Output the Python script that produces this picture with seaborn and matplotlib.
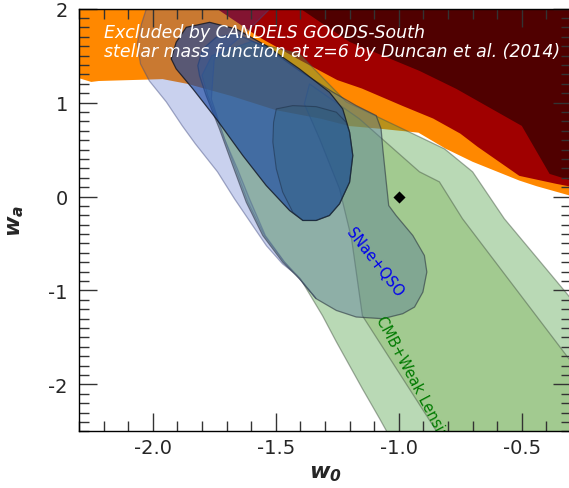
import matplotlib
matplotlib.use("Agg")
import matplotlib.pyplot as plt
from matplotlib.colors import to_rgba
from matplotlib.ticker import MultipleLocator, FormatStrFormatter
import seaborn as sns

# ---------------- data (w0, wa) ----------------
# lower edges of the excluded regions (each region extends to the top of the plot)
orange_w0 = [-2.35, -2.30, -2.25, -2.22, -1.96, -1.86, -1.68, -1.50, -1.32, -1.20, -1.07, -0.92, -0.81, -0.70, -0.51, -0.44, -0.25]
orange_wa = [1.26, 1.26, 1.22, 1.23, 1.25, 1.20, 1.07, 0.92, 0.83, 0.75, 0.72, 0.68, 0.51, 0.37, 0.17, 0.11, -0.03]
red_w0 = [-1.76, -1.74, -1.57, -1.40, -1.25, -1.15, -0.985, -0.86, -0.75, -0.68, -0.51, -0.36, -0.25]
red_wa = [2.10, 2.00, 1.70, 1.45, 1.24, 1.15, 0.965, 0.83, 0.67, 0.53, 0.22, 0.135, 0.08]
maroon_w0 = [-1.42, -1.40, -1.20, -0.916, -0.766, -0.50, -0.387, -0.25]
maroon_wa = [2.10, 2.00, 1.646, 1.338, 1.146, 0.752, 0.241, 0.13]

# CMB + weak lensing (outer / inner)
cmb2_w0 = [-1.404, -1.213, -0.916, -0.814, -0.700, -0.571, -0.310, -0.022, -0.022, -0.997, -1.050, -1.078, -1.148, -1.254, -1.310, -1.400, -1.466, -1.547, -1.614, -1.669, -1.723, -1.777, -1.800, -1.760, -1.600]
cmb2_wa = [1.518, 1.007, 0.635, 0.507, 0.263, -0.237, -1.056, -2.046, -3.216, -3.216, -2.497, -2.365, -2.046, -1.546, -1.269, -0.876, -0.698, -0.415, -0.060, 0.330, 0.720, 1.074, 1.290, 1.500, 1.650]
cmb1_w0 = [-1.363, -1.160, -0.916, -0.835, -0.741, -0.318, -0.022, -0.022, -0.713, -0.847, -1.148, -1.192, -1.241, -1.322, -1.384]
cmb1_wa = [1.199, 0.827, 0.263, 0.156, -0.237, -1.695, -2.705, -3.216, -3.216, -2.497, -1.269, -0.450, 0.082, 0.614, 0.986]

# SNae + QSO contours (outermost, 2-sigma, 1-sigma, core)
snq3_w0 = [-2.014, -1.485, -1.606, -1.750, -1.762, -1.709, -1.656, -1.607, -1.542, -1.465, -1.392, -1.336, -1.416, -1.473, -1.538, -1.599, -1.668, -1.737, -1.827, -1.880, -1.945, -2.014, -2.050, -2.063, -2.046]
snq3_wa = [2.10, 2.10, 1.784, 1.465, 1.039, 0.614, 0.295, -0.024, -0.418, -0.695, -0.907, -1.088, -0.834, -0.716, -0.524, -0.290, -0.024, 0.263, 0.561, 0.752, 1.007, 1.231, 1.412, 1.624, 1.837]
snq2_w0 = [-1.817, -1.797, -1.742, -1.661, -1.539, -1.404, -1.268, -1.173, -1.092, -1.072, -1.065, -1.051, -1.041, -1.011, -0.943, -0.896, -0.886, -0.902, -0.936, -0.984, -1.065, -1.173, -1.254, -1.336, -1.404, -1.472, -1.553, -1.620, -1.675, -1.729, -1.783, -1.810]
snq2_wa = [1.394, 1.571, 1.696, 1.731, 1.589, 1.340, 1.111, 0.968, 0.862, 0.720, 0.507, 0.153, -0.096, -0.202, -0.415, -0.628, -0.804, -1.017, -1.177, -1.248, -1.301, -1.283, -1.213, -1.088, -0.876, -0.698, -0.415, -0.060, 0.330, 0.720, 1.074, 1.287]
snq1_w0 = [-1.925, -1.905, -1.864, -1.769, -1.661, -1.539, -1.404, -1.282, -1.228, -1.200, -1.187, -1.200, -1.241, -1.282, -1.336, -1.390, -1.444, -1.539, -1.634, -1.742, -1.837, -1.905]
snq1_wa = [1.465, 1.643, 1.802, 1.855, 1.784, 1.606, 1.359, 1.111, 0.933, 0.685, 0.436, 0.153, -0.078, -0.202, -0.255, -0.255, -0.149, 0.117, 0.436, 0.827, 1.146, 1.359]
snq0_w0 = [-1.498, -1.431, -1.336, -1.254, -1.214, -1.200, -1.187, -1.200, -1.241, -1.282, -1.336, -1.390, -1.431, -1.472, -1.498, -1.512, -1.509]
snq0_wa = [0.933, 0.968, 0.957, 0.898, 0.791, 0.685, 0.436, 0.153, -0.078, -0.202, -0.255, -0.255, -0.166, 0.047, 0.295, 0.579, 0.791]

fid_w0 = [-1.0]
fid_wa = [0.0]

x_ticks = [-2.0, -1.5, -1.0, -0.5]
y_ticks = [-2, -1, 0, 1, 2]

# ---------------- style ----------------
sns.set_style("ticks")
plt.rcParams.update({
    "font.family": ["DejaVu Sans"],
    "axes.unicode_minus": False,
    "mathtext.fontset": "custom",
    "mathtext.it": "DejaVu Sans:italic:bold",
    "mathtext.rm": "DejaVu Sans:italic:bold",
    "mathtext.bf": "DejaVu Sans:italic:bold",
})

fig = plt.figure(figsize=(5.69, 4.89), dpi=100)
ax = fig.add_axes([79 / 569, 56.7 / 489, 492 / 569, 422.6 / 489])
ax.set_xlim(-2.3, -0.3)
ax.set_ylim(-2.5, 2.0)
TOP = 2.2


def excl(xs, ys, color):
    ax.fill(list(xs) + [xs[-1], xs[0]], list(ys) + [TOP, TOP],
            facecolor=color, edgecolor="none", zorder=1)


excl(orange_w0, orange_wa, "#ff8800")
excl(red_w0, red_wa, "#a00000")
excl(maroon_w0, maroon_wa, "#500000")


def contour(xs, ys, fc, fa, ec, ea, lw=0.9, z=2):
    ax.fill(xs, ys, facecolor=to_rgba(fc, fa), edgecolor=to_rgba(ec, ea),
            linewidth=lw, zorder=z)


contour(cmb2_w0, cmb2_wa, "#50a046", 0.40, "#4a5a48", 0.5, z=2)
contour(cmb1_w0, cmb1_wa, "#6eaa3c", 0.30, "#4a5a48", 0.5, z=2.1)
contour(snq3_w0, snq3_wa, "#3250be", 0.26, "#404a80", 0.45, z=2.2)
contour(snq2_w0, snq2_wa, "#5a7d96", 0.45, "#2a3440", 0.6, z=2.3)
contour(snq1_w0, snq1_wa, "#14449f", 0.62, "#101420", 0.8, z=2.4)
contour(snq0_w0, snq0_wa, "#285a6e", 0.25, "#1a2a40", 0.5, lw=0.8, z=2.5)

sns.scatterplot(x=fid_w0, y=fid_wa, marker="D", s=38, color="black",
                linewidth=0, legend=False, ax=ax, zorder=5)

ax.text(-2.20, 1.699, "Excluded by CANDELS GOODS-South", color="white",
        fontsize=12.5, style="italic", va="baseline", ha="left", zorder=6)
ax.text(-2.20, 1.497, "stellar mass function at z=6 by Duncan et al. (2014)",
        color="white", fontsize=12.5, style="italic", va="baseline", ha="left", zorder=6)
ax.text(-1.099, -0.698, "SNae+QSO", color="#0000ee", fontsize=10.5,
        rotation=-52, ha="center", va="center", rotation_mode="anchor", zorder=6)
ax.text(-1.078, -1.28, "CMB+Weak Lensing", color="#007a00", fontsize=10.5,
        rotation=-62, ha="left", va="center", rotation_mode="anchor",
        zorder=6, clip_on=True)

ax.set_xticks(x_ticks)
ax.set_yticks(y_ticks)
ax.xaxis.set_major_formatter(FormatStrFormatter("%.1f"))
ax.yaxis.set_major_formatter(FormatStrFormatter("%d"))
ax.xaxis.set_minor_locator(MultipleLocator(0.1))
ax.yaxis.set_minor_locator(MultipleLocator(0.1))
ax.tick_params(which="both", direction="in", top=True, right=True,
               color="#333333", width=1.0, labelsize=14)
ax.tick_params(which="major", length=13)
ax.tick_params(which="minor", length=7)
ax.tick_params(axis="x", which="major", pad=5)
ax.tick_params(axis="y", which="major", pad=8)
ax.set_axisbelow(False)
for s in ax.spines.values():
    s.set_color("black")
    s.set_linewidth(1.0)
    s.set_zorder(7)

ax.set_xlabel(r"$w_0$", fontsize=16, labelpad=4)
ax.set_ylabel(r"$w_a$", fontsize=16, labelpad=16)

fig.savefig("out.png", dpi=100)
